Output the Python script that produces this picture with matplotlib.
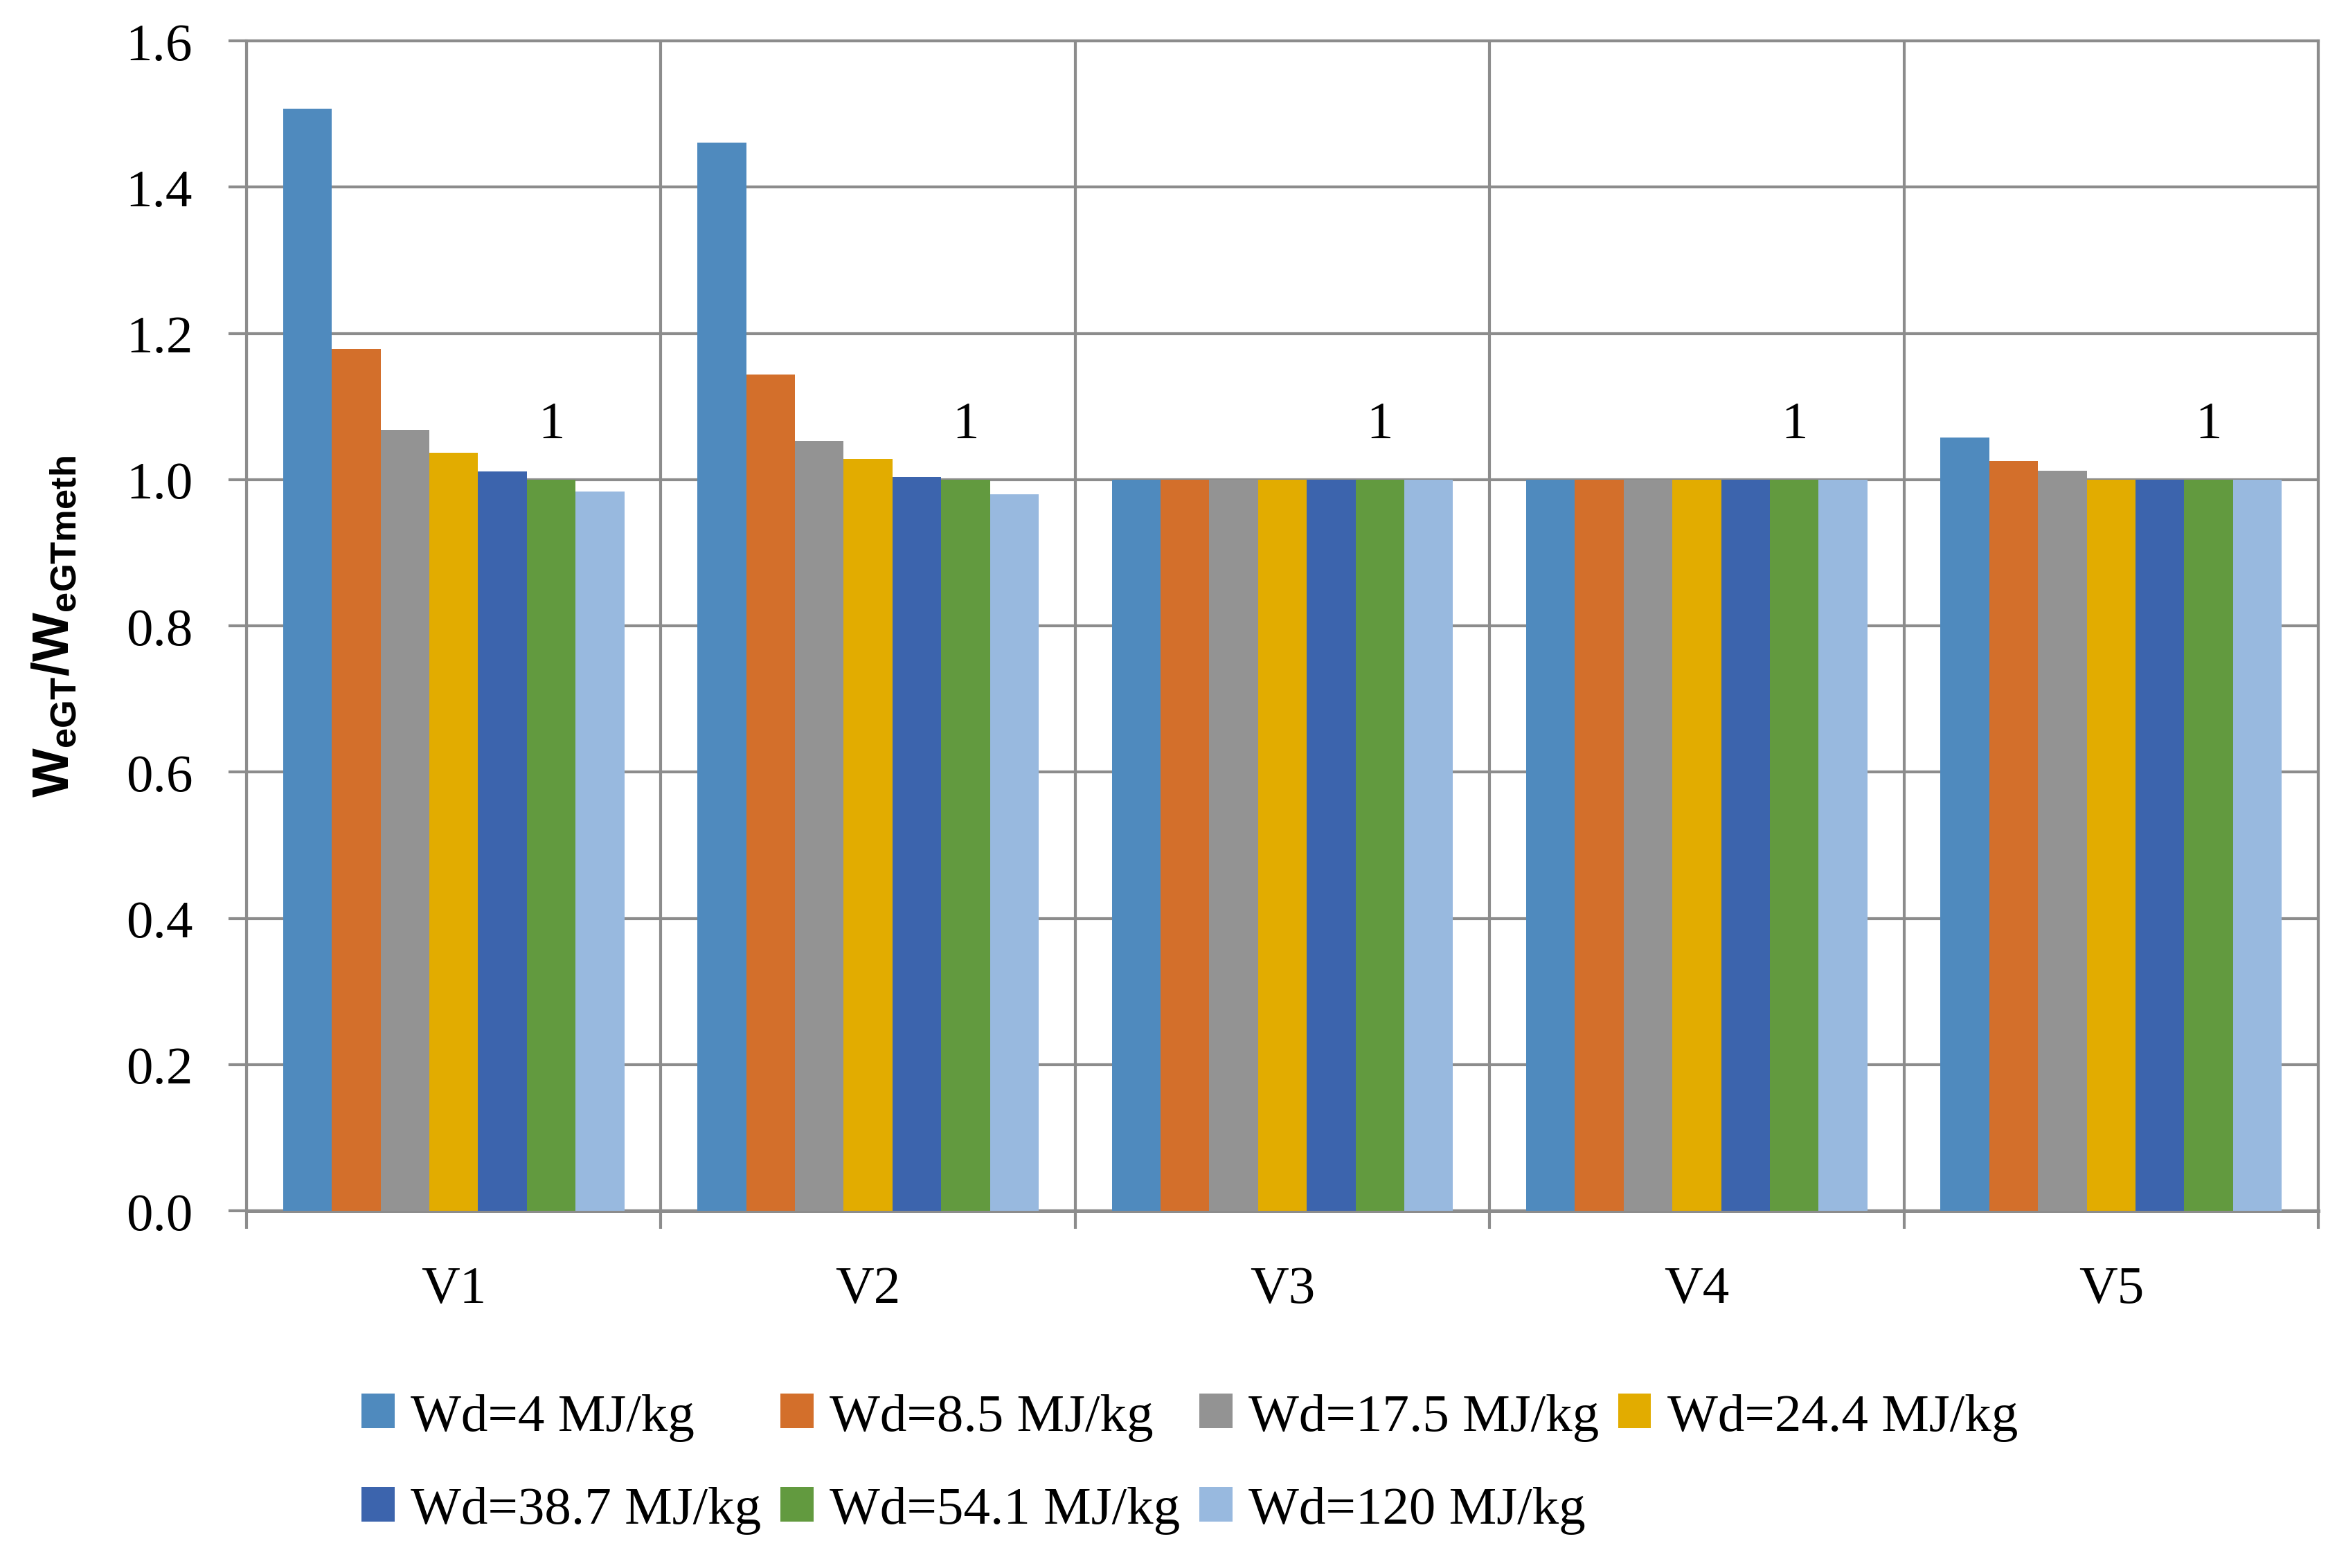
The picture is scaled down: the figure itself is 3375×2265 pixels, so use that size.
import numpy as np
import matplotlib
matplotlib.use("Agg")
import matplotlib.pyplot as plt
from matplotlib.ticker import FormatStrFormatter

# categories and series
categories = ["V1", "V2", "V3", "V4", "V5"]
series_labels = ["Wd=4 MJ/kg", "Wd=8.5 MJ/kg", "Wd=17.5 MJ/kg", "Wd=24.4 MJ/kg",
                 "Wd=38.7 MJ/kg", "Wd=54.1 MJ/kg", "Wd=120 MJ/kg"]
wd_4 = [1.507, 1.461, 1.0, 1.0, 1.058]
wd_8_5 = [1.179, 1.144, 1.0, 1.0, 1.025]
wd_17_5 = [1.068, 1.053, 1.0, 1.0, 1.012]
wd_24_4 = [1.037, 1.028, 1.0, 1.0, 1.0]
wd_38_7 = [1.011, 1.004, 1.0, 1.0, 1.0]
wd_54_1 = [1.0, 1.0, 1.0, 1.0, 1.0]
wd_120 = [0.984, 0.980, 1.0, 1.0, 1.0]
series_values = [wd_4, wd_8_5, wd_17_5, wd_24_4, wd_38_7, wd_54_1, wd_120]
label_series = 5   # only the Wd=54.1 series carries data labels

colors = ["#4F8ABE", "#D36F2B", "#939393", "#E2AC00", "#3C64AD", "#629A3F", "#98B9DF"]
grid_color = "#8C8C8C"

plt.rcParams["font.family"] = ["Liberation Serif", "DejaVu Serif"]
plt.rcParams["mathtext.fontset"] = "custom"
plt.rcParams["mathtext.rm"] = "Liberation Sans"
plt.rcParams["mathtext.bf"] = "Liberation Sans:bold"

fig = plt.figure(figsize=(11.25, 7.5533), dpi=300)
ax = fig.add_axes([0.1055, 0.2277, 0.8865, 0.7458])

n = len(series_values)
x = np.arange(len(categories))
w = 1.0 / (n + 1.5)
for i, vals in enumerate(series_values):
    pos = x + (i - (n - 1) / 2) * w
    bars = ax.bar(pos, vals, width=w, color=colors[i], label=series_labels[i], zorder=3)
    if i == label_series:
        for p, v in zip(pos, vals):
            ax.text(p, v + 0.042, f"{v:g}", ha="center", va="bottom", fontsize=18.5, zorder=4)

ax.set_xlim(-0.5, len(categories) - 0.5)
ax.set_ylim(0, 1.6)
ax.set_yticks(np.arange(0, 1.61, 0.2))
ax.yaxis.set_major_formatter(FormatStrFormatter("%.1f"))

# group boundaries as major ticks (with grid), names on minor ticks
ax.set_xticks(np.arange(-0.5, len(categories), 1.0))
ax.set_xticklabels([])
ax.set_xticks(x, minor=True)
ax.set_xticklabels(categories, minor=True)

ax.grid(True, which="major", color=grid_color, linewidth=1.0, zorder=0)
ax.tick_params(axis="both", which="major", color=grid_color, width=1.0, length=6.2,
               labelsize=18.5, pad=12.5)
ax.tick_params(axis="x", which="minor", length=0, labelsize=18.5, pad=19)
for side in ["left", "bottom", "top", "right"]:
    ax.spines[side].set_color(grid_color)
    ax.spines[side].set_linewidth(1.0)
ax.spines["bottom"].set_linewidth(1.2)

ax.set_ylabel(r"$\mathbf{W_{eGT}/W_{eGTmeth}}$", fontsize=18, labelpad=16)

handles, labels = ax.get_legend_handles_labels()
order = [0, 4, 1, 5, 2, 6, 3]
fig.legend([handles[k] for k in order], [labels[k] for k in order],
           loc="upper left", bbox_to_anchor=(0.1455, 0.125), ncol=4, frameon=False,
           fontsize=18.5, handlelength=0.62, handleheight=0.62, handletextpad=0.3,
           columnspacing=0.36, labelspacing=0.85, borderaxespad=0)

fig.savefig("out.png", dpi=300, facecolor="white")
